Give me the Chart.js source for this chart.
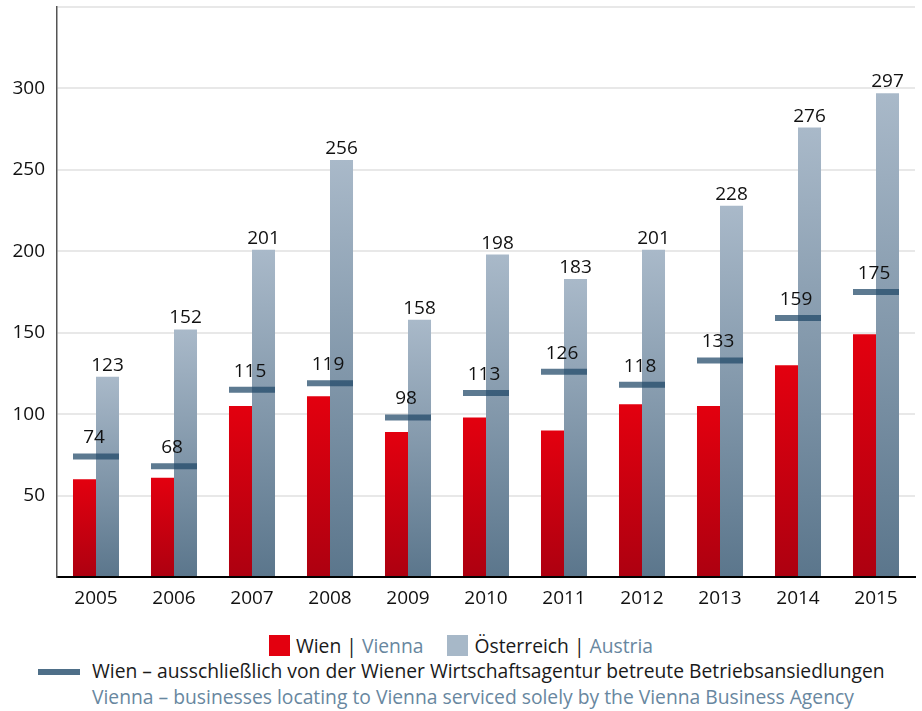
<!DOCTYPE html>
<html>
<head>
<meta charset="utf-8">
<script src="https://cdn.jsdelivr.net/npm/chart.js@4"></script>
<style>
  html, body { margin: 0; padding: 0; background: #fff; }
  body { width: 922px; height: 711px; overflow: hidden; font-family: "Open Sans", sans-serif; color: #1a1a1a; }
  #wrap { position: relative; width: 922px; height: 615px; }
  .legend { position: absolute; left: 0; width: 922px; font-size: 19.3px; white-space: nowrap; }
  .en { color: #6887a0; }
  .sep { color: #1a1a1a; }
  .sw { display: inline-block; width: 21px; height: 21px; vertical-align: -3px; margin-right: 6px; }
  .dash { position: absolute; left: 38px; top: 12px; width: 42px; height: 6px; background: #4e6f88; }
</style>
</head>
<body>
<div id="wrap"><canvas id="chart" width="922" height="615"></canvas></div>
<div class="legend" style="top:632px; text-align:center;">
  <span class="sw" style="background:#e3000f"></span>Wien <span class="sep">|</span> <span class="en">Vienna</span>
  <span style="display:inline-block;width:14px"></span>
  <span class="sw" style="background:#a7b8c8"></span>Österreich <span class="sep">|</span> <span class="en">Austria</span>
</div>
<div class="legend" style="top:657px;">
  <div class="dash"></div>
  <div style="position:absolute;left:92px;top:0;" id="lineDe"></div>
  <div style="position:absolute;left:92px;top:26px;" class="en" id="lineEn"></div>
</div>
<script>
// ===== Data =====
const years = ["2005", "2006", "2007", "2008", "2009", "2010", "2011", "2012", "2013", "2014", "2015"];
const wien = [60, 61, 105, 111, 89, 98, 90, 106, 105, 130, 149];
const oesterreich = [123, 152, 201, 256, 158, 198, 183, 201, 228, 276, 297];
const wienAgentur = [74, 68, 115, 119, 98, 113, 126, 118, 133, 159, 175];
const yTicks = [50, 100, 150, 200, 250, 300];

const lineLabelDe = "Wien – ausschließlich von der Wiener Wirtschaftsagentur betreute Betriebsansiedlungen";
const lineLabelEn = "Vienna – businesses locating to Vienna serviced solely by the Vienna Business Agency";

document.getElementById("lineDe").textContent = lineLabelDe;
document.getElementById("lineEn").textContent = lineLabelEn;

// per-bar vertical gradient
function barGradient(top, bottom) {
  return function (context) {
    const chart = context.chart;
    const area = chart.chartArea;
    if (!area) return top;
    const y = chart.scales.y;
    const y1 = y.getPixelForValue(context.raw);
    const y0 = y.getPixelForValue(0);
    const g = chart.ctx.createLinearGradient(0, y1, 0, y0);
    g.addColorStop(0, top);
    g.addColorStop(1, bottom);
    return g;
  };
}

// value labels above blue bars and dashes
const valueLabels = {
  id: "valueLabels",
  afterDatasetsDraw(chart) {
    const c = chart.ctx;
    c.save();
    c.font = '19px "Open Sans", sans-serif';
    c.fillStyle = "#111";
    c.textAlign = "center";
    c.textBaseline = "alphabetic";
    chart.getDatasetMeta(1).data.forEach((bar, i) => {
      c.fillText(String(oesterreich[i]), bar.x, bar.y - 6);
    });
    chart.getDatasetMeta(2).data.forEach((pt, i) => {
      c.fillText(String(wienAgentur[i]), pt.x - 2, pt.y - 13);
    });
    c.restore();
  }
};

new Chart(document.getElementById("chart"), {
  data: {
    labels: years,
    datasets: [
      {
        type: "bar",
        label: "Wien | Vienna",
        data: wien,
        backgroundColor: barGradient("#e3000f", "#ad0010"),
        categoryPercentage: 0.59,
        barPercentage: 1.0,
        order: 2
      },
      {
        type: "bar",
        label: "Österreich | Austria",
        data: oesterreich,
        backgroundColor: barGradient("#a9b9c9", "#5b768c"),
        categoryPercentage: 0.59,
        barPercentage: 1.0,
        order: 2
      },
      {
        type: "line",
        label: lineLabelDe,
        data: wienAgentur,
        showLine: false,
        pointStyle: "line",
        pointRadius: 23,
        pointHoverRadius: 23,
        pointBorderWidth: 6,
        pointBorderColor: "rgba(30,70,102,0.72)",
        borderColor: "rgba(30,70,102,0.72)",
        order: 1
      }
    ]
  },
  options: {
    responsive: false,
    animation: false,
    layout: { autoPadding: false, padding: { top: 7, right: 7, left: 0, bottom: 0 } },
    plugins: {
      legend: { display: false },
      tooltip: { enabled: false }
    },
    scales: {
      x: {
        grid: { display: false, drawTicks: false },
        border: { color: "#000", width: 2 },
        ticks: { color: "#111", font: { family: "Open Sans", size: 19 }, padding: 10 },
        afterFit(scale) { scale.height = 38; scale.paddingLeft = 0; scale.paddingRight = 0; }
      },
      y: {
        min: 0,
        max: 350,
        afterBuildTicks(scale) {
          scale.ticks = [0, ...yTicks, 350].map(v => ({ value: v }));
        },
        grid: { color: "#e8e8e8", lineWidth: 2, drawTicks: false },
        border: { color: "#555", width: 1.5 },
        ticks: {
          color: "#111",
          font: { family: "Open Sans", size: 19 },
          padding: 12,
          callback: v => (yTicks.includes(v) ? String(v) : "")
        },
        afterFit(scale) { scale.width = 57; scale.paddingTop = 0; scale.paddingBottom = 0; }
      }
    }
  },
  plugins: [valueLabels]
});
</script>
</body>
</html>
